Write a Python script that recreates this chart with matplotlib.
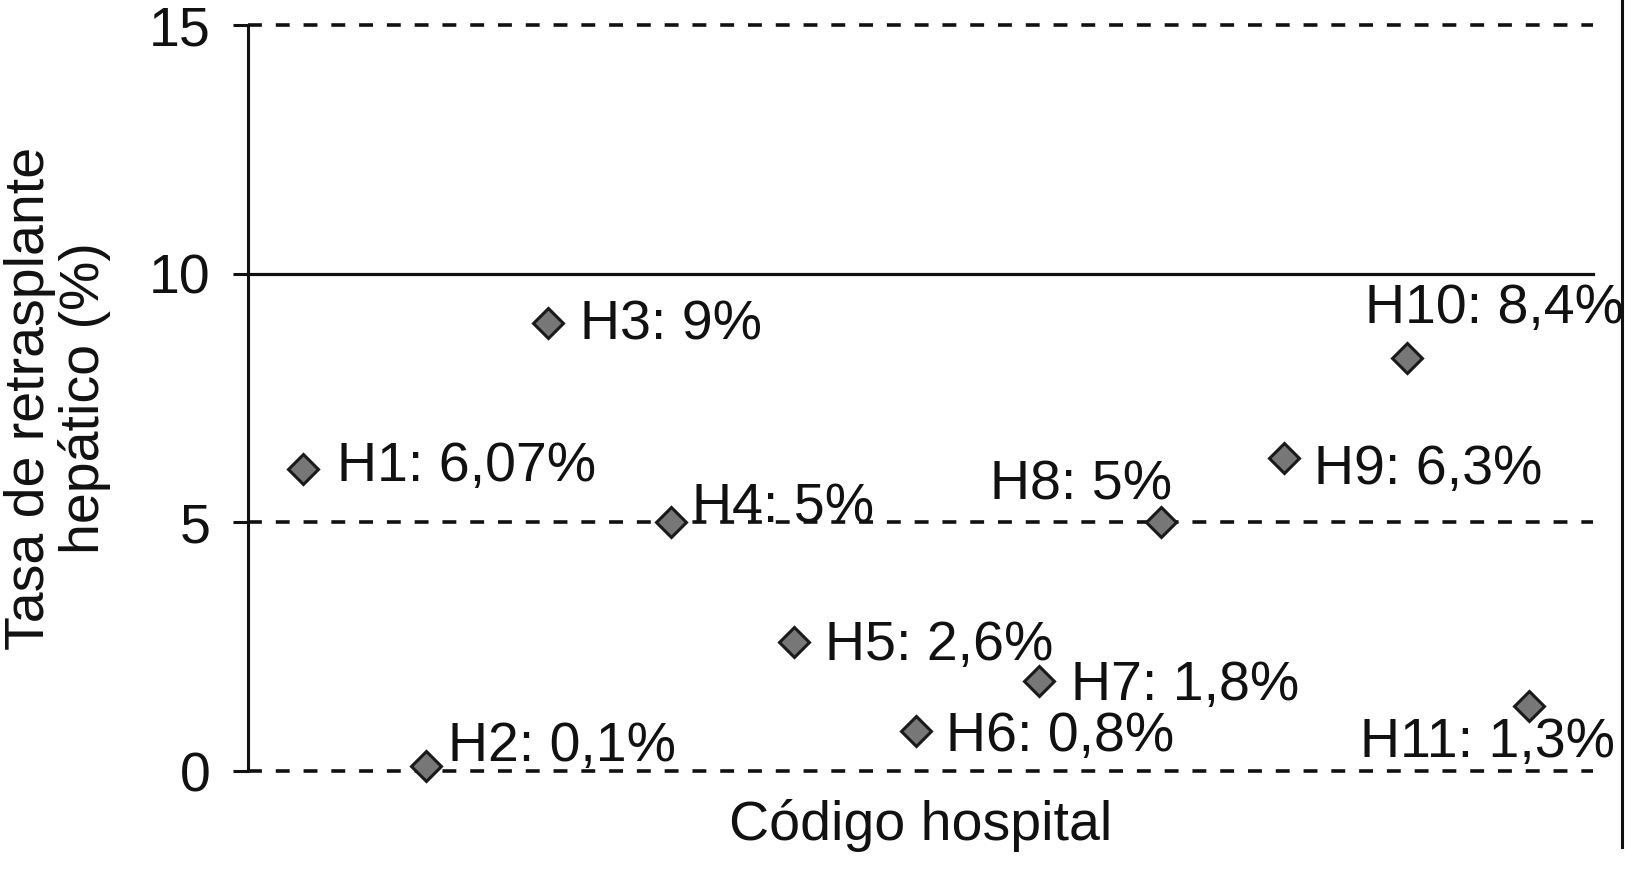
import matplotlib
matplotlib.use("Agg")
import matplotlib.pyplot as plt
from matplotlib.lines import Line2D

plt.rcParams['font.family'] = ['Liberation Sans', 'DejaVu Sans']
plt.rcParams['lines.scale_dashes'] = False

# Data
hospitals = ["H1", "H2", "H3", "H4", "H5", "H6", "H7", "H8", "H9", "H10", "H11"]
rates = [6.07, 0.1, 9.0, 5.0, 2.6, 0.8, 1.8, 5.0, 6.3, 8.3, 1.3]
label_texts = ["6,07%", "0,1%", "9%", "5%", "2,6%", "0,8%", "1,8%", "5%", "6,3%", "8,4%", "1,3%"]
y_ticks = [0, 5, 10, 15]

# label offsets in pixels (dx right, dy down) relative to the marker, baseline aligned
label_dx = [34, 22, 32, 21, 31, 30, 32, -171, 30, -42, -169]
label_dy = [12, -5, 16, 0, 18, 20, 19, -23, 26, -35, 51]

W, H = 1625, 869
fig = plt.figure(figsize=(W / 100, H / 100), dpi=100)
left, right, top, bottom = 248, 1593, 25, 771
ax = fig.add_axes([left / W, 1 - bottom / H, (right - left) / W, (bottom - top) / H])

xs = list(range(1, len(hospitals) + 1))
ax.set_xlim(0.55, 11.52)
ax.set_ylim(0, 15)

FS = 40
dash = (0, (10, 10))
for yv in y_ticks:
    if yv == 10:
        ax.axhline(yv, color='#111111', lw=2.3, ls='-', zorder=1, clip_on=False)
    else:
        ax.axhline(yv, color='#111111', lw=2.6, ls=dash, zorder=1, clip_on=False)

ax.plot(xs, rates, ls='none', marker='D', ms=15, mfc='#777777', mec='#1a1a1a',
        mew=2.2, zorder=3, clip_on=False)

for x, y, h, t, dx, dy in zip(xs, rates, hospitals, label_texts, label_dx, label_dy):
    ax.annotate(f"{h}: {t}", xy=(x, y), xytext=(dx, -dy), textcoords='offset pixels',
                ha='left', va='baseline', fontsize=FS, color='#111111', zorder=4,
                annotation_clip=False)

for s in ['top', 'right', 'bottom']:
    ax.spines[s].set_visible(False)
ax.spines['left'].set_linewidth(2.2)
ax.spines['left'].set_color('#111111')

ax.set_xticks([])
ax.set_yticks(y_ticks)
ax.set_yticklabels([str(v) for v in y_ticks])
ax.tick_params(axis='y', direction='out', length=11, width=2.2, color='#111111',
               labelsize=FS, pad=16, labelcolor='#111111')

ax.set_ylabel("Tasa de retrasplante\nhepático (%)", fontsize=FS, color='#111111',
              linespacing=1.05, labelpad=27)
ax.set_xlabel("Código hospital", fontsize=FS, color='#111111', labelpad=20)

fig.add_artist(Line2D([1622 / W, 1622 / W], [1 - 847 / H, 1.0], color='#111111', lw=2.2))

fig.savefig("out.png", dpi=100)
